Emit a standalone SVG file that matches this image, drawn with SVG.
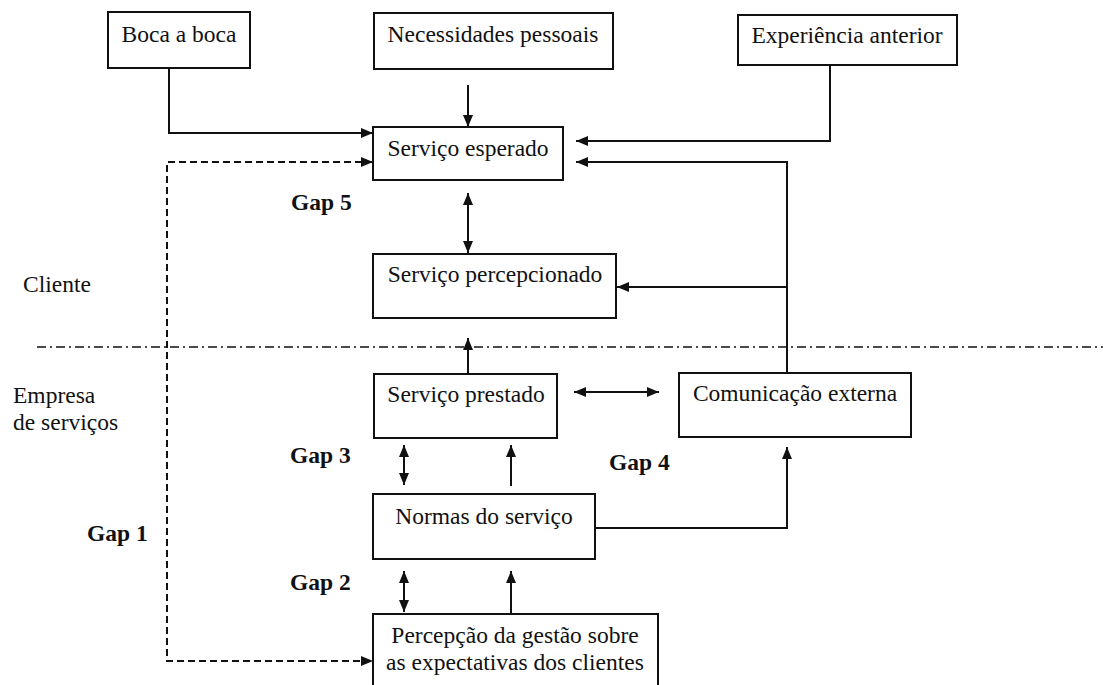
<svg xmlns="http://www.w3.org/2000/svg" width="1103" height="685" viewBox="0 0 1103 685">
  <style>
    .box { fill: #fff; stroke: #111; stroke-width: 2; }
    .lbl { font-family: "Liberation Serif", "Times New Roman", serif; font-size: 23.5px; fill: #111; }
    .mid { text-anchor: middle; }
    .gap { font-weight: bold; }
    .ln { fill: none; stroke: #111; stroke-width: 2; }
    .dash { stroke-dasharray: 7 4; }
    .sep { fill: none; stroke: #111; stroke-width: 1.6; stroke-dasharray: 9 4 2 4; }
  </style>
  <defs>
    <marker id="ah" viewBox="0 0 12 10" refX="12" refY="5" markerWidth="12" markerHeight="10" markerUnits="userSpaceOnUse" orient="auto-start-reverse">
      <path d="M0,0 L12,5 L0,10 z" fill="#111"/>
    </marker>
  </defs>
  <rect width="1103" height="685" fill="#fff"/>

  <!-- boundary between client and company -->
  <line class="sep" x1="37" y1="347" x2="1103" y2="347"/>

  <!-- side labels -->
  <g id="labels">
    <text class="lbl" x="23" y="292">Cliente</text>
    <text class="lbl" x="13" y="403">Empresa</text>
    <text class="lbl" x="13" y="430">de serviços</text>
    <text class="lbl gap" x="291" y="210">Gap 5</text>
    <text class="lbl gap" x="290" y="463">Gap 3</text>
    <text class="lbl gap" x="609" y="470">Gap 4</text>
    <text class="lbl gap" x="87" y="541">Gap 1</text>
    <text class="lbl gap" x="290" y="590">Gap 2</text>
  </g>

  <!-- connectors -->
  <g id="connectors">
    <polyline class="ln" points="169,68 169,133 373,133" marker-end="url(#ah)"/>
    <line class="ln" x1="468" y1="85" x2="468" y2="127" marker-end="url(#ah)"/>
    <polyline class="ln" points="830,65 830,141 576,141" marker-end="url(#ah)"/>
    <polyline class="ln" points="787,373 787,162 576,162" marker-end="url(#ah)"/>
    <line class="ln" x1="787" y1="287" x2="617" y2="287" marker-end="url(#ah)"/>
    <polyline class="ln dash" points="373,162 167,162 167,661 373,661" marker-start="url(#ah)" marker-end="url(#ah)"/>
    <line class="ln" x1="468" y1="193" x2="468" y2="253" marker-start="url(#ah)" marker-end="url(#ah)"/>
    <line class="ln" x1="468" y1="374" x2="468" y2="338" marker-end="url(#ah)"/>
    <line class="ln" x1="574" y1="392" x2="659" y2="392" marker-start="url(#ah)" marker-end="url(#ah)"/>
    <line class="ln" x1="404" y1="445" x2="404" y2="485" marker-start="url(#ah)" marker-end="url(#ah)"/>
    <line class="ln" x1="511" y1="486" x2="511" y2="445" marker-end="url(#ah)"/>
    <polyline class="ln" points="595,528 787,528 787,447" marker-end="url(#ah)"/>
    <line class="ln" x1="404" y1="571" x2="404" y2="612" marker-start="url(#ah)" marker-end="url(#ah)"/>
    <line class="ln" x1="511" y1="614" x2="511" y2="571" marker-end="url(#ah)"/>
  </g>

  <g id="boca">
    <rect class="box" x="108" y="12" width="142" height="56"/>
    <text class="lbl mid" x="179" y="42">Boca a boca</text>
  </g>
  <g id="necessidades">
    <rect class="box" x="374" y="13" width="239" height="56"/>
    <text class="lbl mid" x="493" y="42">Necessidades pessoais</text>
  </g>
  <g id="experiencia">
    <rect class="box" x="738" y="15" width="219" height="50"/>
    <text class="lbl mid" x="847" y="43">Experiência anterior</text>
  </g>
  <g id="esperado">
    <rect class="box" x="373" y="127" width="190" height="53"/>
    <text class="lbl mid" x="468" y="156">Serviço esperado</text>
  </g>
  <g id="percepcionado">
    <rect class="box" x="373" y="254" width="243" height="64"/>
    <text class="lbl mid" x="495" y="282">Serviço percepcionado</text>
  </g>
  <g id="prestado">
    <rect class="box" x="374" y="374" width="183" height="64"/>
    <text class="lbl mid" x="466" y="402">Serviço prestado</text>
  </g>
  <g id="comunicacao">
    <rect class="box" x="679" y="373" width="232" height="64"/>
    <text class="lbl mid" x="795" y="401">Comunicação externa</text>
  </g>
  <g id="normas">
    <rect class="box" x="373" y="494" width="222" height="65"/>
    <text class="lbl mid" x="484" y="524">Normas do serviço</text>
  </g>
  <g id="percepcao">
    <rect class="box" x="373" y="614" width="285" height="90"/>
    <text class="lbl mid" x="515" y="643">Percepção da gestão sobre</text>
    <text class="lbl mid" x="515" y="670">as expectativas dos clientes</text>
  </g>
</svg>
